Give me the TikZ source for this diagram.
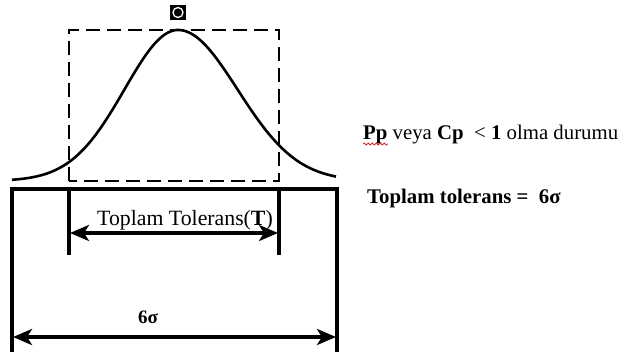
\documentclass[tikz,border=0pt]{standalone}
\usepackage{fontspec}
\setmainfont{Liberation Serif}
\usetikzlibrary{arrows.meta,positioning,decorations.pathmorphing}
\definecolor{spellRed}{RGB}{220,40,40}

\begin{document}
\begin{tikzpicture}[x=1pt,y=-1pt,
  dimline/.style={line width=4.5pt,{Stealth[length=19pt,width=16pt,inset=5pt]}-{Stealth[length=19pt,width=16pt,inset=5pt]}},
  frameline/.style={line width=3.5pt},
  txt/.style={font=\fontsize{20.8}{24}\selectfont,inner sep=0pt}]
\useasboundingbox (0,0) rectangle (619,352);

% tolerance window and the distribution
\draw[line width=2.6pt, dash pattern=on 14pt off 7pt] (69,181) -- (69,30) -- (279,30) -- (279,181) -- cycle;
\draw[line width=2.6pt, smooth, samples=200, domain=12:336]
plot (\x,{181-151*exp(-0.5*((\x-178)/ifthenelse(\x<178,53.5,59.5))^2)});

\node[fill=black, minimum width=16pt, minimum height=15pt, inner sep=0pt] (peakMark) at (178,12.5) {};
\node[circle, draw=white, fill=black, line width=1.3pt, minimum size=10pt, inner sep=0pt] (peakDot) at (peakMark) {};

% frame of the process spread
\coordinate (spreadBL) at (12,352);
\coordinate (spreadTL) at (12,189);
\coordinate (spreadTR) at (337,189);
\coordinate (spreadBR) at (337,352);
\draw[frameline] (spreadBL) -- (spreadTL) -- (spreadTR) -- (spreadBR);

\coordinate (tolTopL) at (69,189);
\coordinate (tolBotL) at (69,255);
\coordinate (tolTopR) at (279,189);
\coordinate (tolBotR) at (279,255);
\draw[frameline] (tolTopL) -- (tolBotL);
\draw[frameline] (tolTopR) -- (tolBotR);

% dimension arrows
\coordinate (tolArrL) at (70,233);
\coordinate (tolArrR) at (278,233);
\draw[dimline] (tolArrL) -- (tolArrR);
\node[txt, font=\fontsize{21.8}{25}\selectfont] (tolLabel) at (185,220) {Toplam Tolerans(\textbf{T})};

\coordinate (sigArrL) at (13,337);
\coordinate (sigArrR) at (336,337);
\draw[dimline] (sigArrL) -- (sigArrR);
\node[txt, font=\fontsize{19}{22}\selectfont\bfseries] (sixSigma) at (148,317) {6σ};

% right hand notes
\node[txt, anchor=base west] (ppCase) at (363,140) {\textbf{Pp} veya \textbf{Cp}\ \ < \textbf{1} olma durumu};
\draw[spellRed, line width=0.8pt, decorate, decoration={snake, amplitude=1pt, segment length=4pt}]
([yshift=-4pt]ppCase.base west) -- ++(25,0);
\node[txt, anchor=base west, font=\fontsize{20.8}{24}\selectfont\bfseries] (totalTol) at (367,204) {Toplam tolerans =\ \ 6σ};
\end{tikzpicture}
\end{document}
